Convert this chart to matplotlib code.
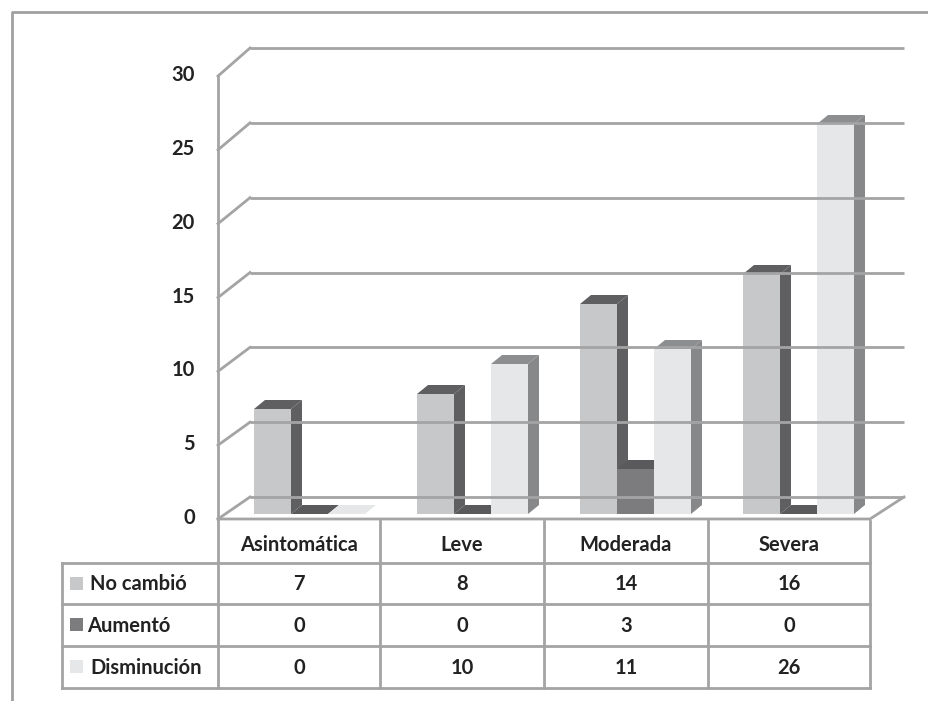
import numpy as np
import matplotlib.pyplot as plt
from matplotlib.patches import Polygon, Rectangle

plt.rcParams['font.family'] = ['Lato', 'DejaVu Sans']

categorias = ["Asintomática", "Leve", "Moderada", "Severa"]
series = ["No cambió", "Aumentó", "Disminución"]
no_cambio = [7, 8, 14, 16]
aumento = [0, 0, 3, 0]
disminucion = [0, 10, 11, 26]
valores = [no_cambio, aumento, disminucion]
yticks = [0, 5, 10, 15, 20, 25, 30]

# face colours per series: front, side, top
colores = [
    ("#c7c8ca", "#5f5f61", "#5f5f61"),
    ("#7c7c7e", "#5a5a5c", "#5a5a5c"),
    ("#e6e7e8", "#87888a", "#8d8e90"),
]
grid_col = "#a4a4a4"
texto = "#222222"
fs = 14.5

W, H = 929, 701
fig = plt.figure(figsize=(W / 100, H / 100), dpi=100)

# bars live in this plane: x in categories, y in values
x0, x1 = 228, 880
y0, y30 = 514, 64
ax = fig.add_axes([x0 / W, 1 - y0 / H, (x1 - x0) / W, (y0 - y30) / H])
ax.set_xlim(0, 4)
ax.set_ylim(0, 30)
ax.axis("off")

px_x = 4 / (x1 - x0)      # data units per pixel
px_y = 30 / (y0 - y30)

# front and back planes of the 3D box
def front_y(v):
    return -5 * px_y + v * 29.53 / 30

def back_y(v):
    return 17 * px_y + v * 29.93 / 30

fx = (218 - x0) * px_x
bx = (250 - x0) * px_x
br = (904 - x0) * px_x
fr = (870 - x0) * px_x

# back wall gridlines and left wall diagonals
for v in yticks:
    ax.plot([bx, br], [back_y(v), back_y(v)], color=grid_col, lw=2,
            clip_on=False, solid_capstyle="butt")
    ax.plot([fx, bx], [front_y(v), back_y(v)], color=grid_col, lw=2,
            clip_on=False)
    ax.text(fx - 23 * px_x, front_y(v) + 1 * px_y, str(v), ha="right", va="center",
            fontsize=fs, fontweight="bold", color=texto)
ax.plot([fx, fx], [front_y(0), front_y(30)], color=grid_col, lw=2, clip_on=False)

# floor
ax.plot([fx, fr, br], [front_y(0), front_y(0), back_y(0)],
        color=grid_col, lw=2, clip_on=False)

# bars
ancho = 0.227
dx, dy = 11 * px_x, 9 * px_y
inicio = (1 - 3 * ancho) / 2
for i in range(len(categorias)):
    for s in range(len(series)):
        v = valores[s][i]
        xa = i + inicio + s * ancho
        xb = xa + ancho
        front, side, top = colores[s]
        if v > 0:
            ax.add_patch(Polygon([(xb, 0), (xb + dx, dy), (xb + dx, v + dy), (xb, v)],
                                 closed=True, fc=side, ec="none", clip_on=False))
            ax.add_patch(Rectangle((xa, 0), ancho, v, fc=front, ec="none", clip_on=False))
        cara = top if (v > 0 or s != 2) else front
        ax.add_patch(Polygon([(xa, v), (xb, v), (xb + dx, v + dy), (xa + dx, v + dy)],
                             closed=True, fc=cara, ec="none", clip_on=False))

# data table below the plot
tl, tr = 62, 870
ty = [521, 563, 604, 646, 688]
cols = [218, 380, 544, 708, 870]
axt = fig.add_axes([0, 0, 1, 1])
axt.set_xlim(0, W)
axt.set_ylim(H, 0)
axt.axis("off")
axt.patch.set_alpha(0)

lw = 2
for yy in ty[1:]:
    axt.plot([tl, tr], [yy, yy], color=grid_col, lw=lw)
for xx in cols:
    axt.plot([xx, xx], [ty[0], ty[-1]], color=grid_col, lw=lw)
axt.plot([tl, tl], [ty[1], ty[-1]], color=grid_col, lw=lw)

for i, c in enumerate(categorias):
    axt.text((cols[i] + cols[i + 1]) / 2, (ty[0] + ty[1]) / 2 + 3, c,
             ha="center", va="center", fontsize=fs, color=texto, fontweight="bold")

for s, nombre in enumerate(series):
    yc = (ty[s + 1] + ty[s + 2]) / 2
    axt.add_patch(Rectangle((70, yc - 7), 13, 13, fc=colores[s][0], ec="none"))
    axt.text(90 if s != 1 else 87, yc + 1, nombre, ha="left", va="center",
             fontsize=fs, color=texto, fontweight="bold")
    for i in range(len(categorias)):
        axt.text((cols[i] + cols[i + 1]) / 2, yc + 1, str(valores[s][i]),
                 ha="center", va="center", fontsize=fs, color=texto, fontweight="bold")

# outer chart border
axt.plot([12, 12, W + 5], [H + 5, 12, 12], color="#a0a0a0", lw=2)

fig.savefig("out.png", dpi=100)
